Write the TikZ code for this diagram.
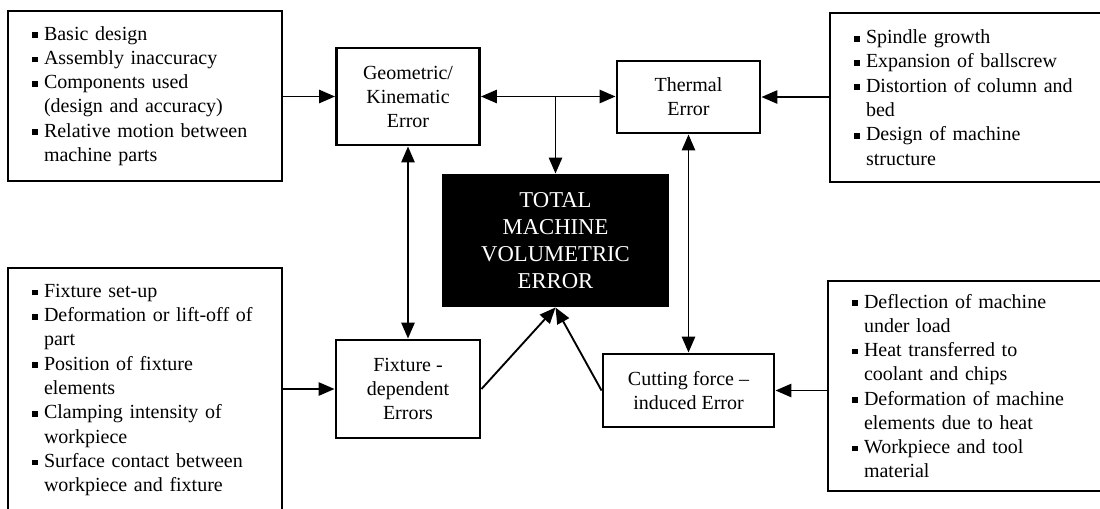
\documentclass[tikz,border=0pt]{standalone}
\usepackage{fontspec}
\setmainfont{Liberation Serif}[Ligatures=TeX]
\usetikzlibrary{arrows.meta}
\newcommand{\bu}{\makebox[9pt][l]{\rule[1.6pt]{4.2pt}{4.2pt}}}
\newcommand{\ct}{\hspace*{9pt}}
\begin{document}
\begin{tikzpicture}[x=0.75pt,y=-0.75pt,
  lst/.style={draw,line width=2.2pt,inner xsep=18pt,inner ysep=0pt,align=left,
    font=\rmfamily\fontsize{15}{18.2}\selectfont},
  cbox/.style={draw,line width=2.2pt,align=center,inner sep=0pt,
    font=\rmfamily\fontsize{15}{18}\selectfont},
  con/.style={line width=1.4pt,-{Triangle[length=12pt,width=10pt]}},
  con2/.style={line width=1.4pt,{Triangle[length=12pt,width=10pt]}-{Triangle[length=12pt,width=10pt]}}]
\useasboundingbox (0,0) rectangle (1100,508);

% side boxes
\node[lst,text width=169.5pt,minimum width=205.5pt,minimum height=127.5pt] (ltop) at (145,96)
  {\bu Basic design\\
   \bu Assembly inaccuracy\\
   \bu Components used\\
   \ct (design and accuracy)\\
   \bu Relative motion between\\
   \ct machine parts};
\node[lst,text width=169.5pt,minimum width=205.5pt,minimum height=126.75pt] (rtop) at (967,97.5)
  {\bu Spindle growth\\
   \bu Expansion of ballscrew\\
   \bu Distortion of column and\\
   \ct bed\\
   \bu Design of machine\\
   \ct structure};
\node[lst,text width=169.5pt,minimum width=205.5pt,minimum height=183pt] (lbot) at (145,390)
  {\bu Fixture set-up\\
   \bu Deformation or lift-off of\\
   \ct part\\
   \bu Position of fixture\\
   \ct elements\\
   \bu Clamping intensity of\\
   \ct workpiece\\
   \bu Surface contact between\\
   \ct workpiece and fixture};
\node[lst,text width=171pt,minimum width=207pt,minimum height=157.5pt] (rbot) at (966,386)
  {\bu Deflection of machine\\
   \ct under load\\
   \bu Heat transferred to\\
   \ct coolant and chips\\
   \bu Deformation of machine\\
   \ct elements due to heat\\
   \bu Workpiece and tool\\
   \ct material};

% central boxes
\node[cbox,minimum width=107.25pt,minimum height=72.75pt] (geo) at (408,96.5)
  {Geometric/\\Kinematic\\Error};
\node[cbox,minimum width=107.25pt,minimum height=54pt] (therm) at (688.5,97)
  {Thermal\\Error};
\node[cbox,fill=black,text=white,minimum width=168.75pt,minimum height=98.25pt,
  font=\rmfamily\fontsize{17}{20.2}\selectfont] (total) at (555.5,240.5)
  {TOTAL\\MACHINE\\VOLUMETRIC\\ERROR};
\node[cbox,minimum width=108pt,minimum height=73.5pt] (fix) at (408,389)
  {Fixture -\\dependent\\Errors};
\node[cbox,minimum width=128.25pt,minimum height=54.75pt] (cut) at (688.5,390.5)
  {Cutting force --\\induced Error};

% connectors
\draw[con] (ltop.east |- geo.west) -- (geo.west);
\draw[con2] (geo.east) -- (geo.east -| therm.west);
\coordinate (j) at (geo.east -| total.north);
\draw[con] (j) -- (total.north);
\draw[con] (rtop.west |- therm.east) -- (therm.east);
\draw[con2] (geo.south) -- (fix.north);
\draw[con2] (therm.south) -- (cut.north);
\draw[con] (lbot.east |- fix.west) -- (fix.west);
\draw[con] (rbot.west |- cut.east) -- (cut.east);
\draw[con] (fix.east) -- (total.south);
\draw[con] (cut.west) -- (total.south);
\end{tikzpicture}
\end{document}
